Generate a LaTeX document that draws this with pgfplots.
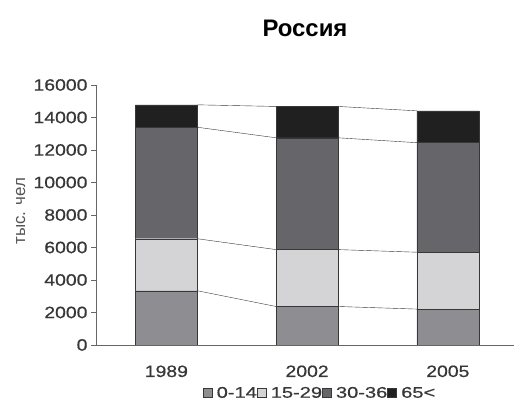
\documentclass[border=0pt]{standalone}
\usepackage{pgfplots}
\pgfplotsset{compat=1.18}
\usepackage{fontspec}
\setmainfont{Liberation Sans}
\newfontfamily\tickfont{Liberation Sans}[FakeStretch=1.18, FakeBold=0.6]
\newfontfamily\legfont{Liberation Sans}[FakeStretch=1.3, FakeBold=0.6]

\definecolor{cA}{RGB}{142,142,146}
\definecolor{cB}{RGB}{212,212,214}
\definecolor{cC}{RGB}{102,102,106}
\definecolor{cD}{RGB}{32,32,32}
\definecolor{edge}{RGB}{55,55,55}
\definecolor{txt}{RGB}{55,55,55}

\pgfplotsset{
  common/.style={
    scale only axis,
    width=418bp, height=260bp,
    xmin=-0.5, xmax=2.47,
    ymin=0, ymax=16000,
  },
  sq/.style={legend image code/.code={
    \draw[##1,draw=edge] (0bp,-4.5bp) rectangle (9bp,4.5bp);}},
}

\begin{document}
\begin{tikzpicture}
\path[use as bounding box] (-96bp,-62bp) rectangle (419bp,345bp);
\begin{axis}[
  common,
  ybar stacked,
  bar width=62bp,
  axis x line*=bottom, axis y line*=left,
  axis line style={-, draw=gray!80!black},
  xtick={0,1,2},
  xticklabels={1989,2002,2005},
  x tick style={draw=none},
  extra x ticks={0.5,1.5},
  extra x tick labels={},
  extra x tick style={major tick length=5bp, tick style={draw=gray!80!black}, tick align=outside},
  ytick={0,2000,...,16000},
  y tick style={draw=gray!80!black},
  tick align=outside,
  major tick length=5bp,
  scaled y ticks=false,
  /pgf/number format/assume math mode=true,
  /pgf/number format/1000 sep={},
  tick label style={font=\tickfont\fontsize{16.5}{18}\selectfont, text=txt},
  xticklabel style={yshift=-12bp},
  ylabel={тыс. чел},
  ylabel style={font=\fontsize{17}{19}\selectfont, text=txt!85,
    at={(axis description cs:-0.18,0.515)}, anchor=center},
  title={\textbf{Россия}},
  title style={font=\fontsize{24}{26}\selectfont, at={(axis description cs:0.5,1.194)}, anchor=center},
  legend columns=-1,
  legend style={draw=none, fill=none, at={(axis description cs:0.536,-0.185)}, anchor=center,
    font=\legfont\fontsize{15.5}{17}\selectfont, text=txt,
    /tikz/every even column/.append style={column sep=-2bp},
    /tikz/every odd column/.append style={column sep=2.5bp}},
  sq,
]
\addplot[fill=cA, draw=edge] coordinates {(0,3340) (1,2370) (2,2210)};
\addplot[fill=cB, draw=edge] coordinates {(0,3200) (1,3500) (2,3500)};
\addplot[fill=cC, draw=edge] coordinates {(0,6860) (1,6880) (2,6740)};
\addplot[fill=cD, draw=edge] coordinates {(0,1380) (1,1930) (2,1960)};
\legend{0-14,15-29,30-36,65<}
\end{axis}
\begin{axis}[common, hide axis]
\addplot[edge, thin] coordinates {(0.22,3340) (0.78,2370) (1.22,2370) (1.78,2210)};
\addplot[edge, thin] coordinates {(0.22,6540) (0.78,5870) (1.22,5870) (1.78,5710)};
\addplot[edge, thin] coordinates {(0.22,13400) (0.78,12750) (1.22,12750) (1.78,12450)};
\addplot[edge, thin] coordinates {(0.22,14780) (0.78,14680) (1.22,14680) (1.78,14410)};
\end{axis}
\end{tikzpicture}
\end{document}
